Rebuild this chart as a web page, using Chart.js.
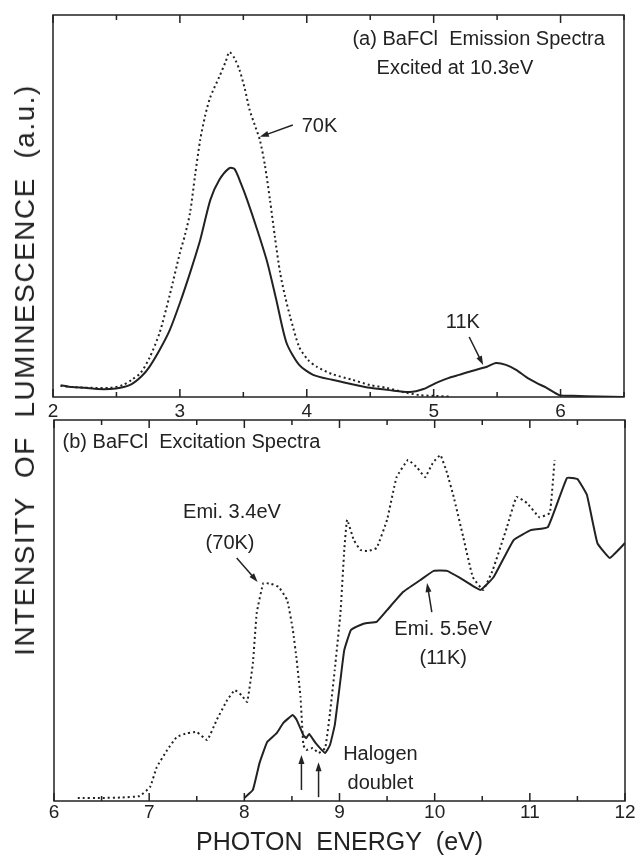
<!DOCTYPE html>
<html lang="en">
<head>
<meta charset="UTF-8">
<title>BaFCl Emission and Excitation Spectra</title>
<script src="https://cdn.jsdelivr.net/npm/chart.js"></script>
<style>
  body { margin: 0; background: #fff; font-family: "Liberation Sans", Arial, sans-serif; }
  #wrap { position: relative; width: 640px; height: 856px; overflow: hidden; }
  canvas { position: absolute; left: 0; }
  #top { top: 0; }
  #bottom { top: 400px; }
  #ytitle {
    position: absolute; left: 25px; top: 370px;
    transform: translate(-50%, -50%) rotate(-90deg);
    white-space: pre; font-size: 28px; color: #222; letter-spacing: 1.5px;
  }
</style>
</head>
<body>
<div id="wrap">
  <canvas id="top" width="640" height="430"></canvas>
  <canvas id="bottom" width="640" height="456"></canvas>
  <div id="ytitle">INTENSITY  OF  LUMINESCENCE  (a.u.)</div>
</div>
<script>
// (a) emission spectra, excited at 10.3 eV
const emiEnergy11K = [2.06, 2.15, 2.25, 2.35, 2.45, 2.53, 2.62, 2.70, 2.76, 2.84, 2.92, 3.00, 3.08, 3.16, 3.24,
  3.31, 3.39, 3.43, 3.48, 3.53, 3.61, 3.69, 3.76, 3.84, 3.94, 4.05, 4.20, 4.35, 4.50, 4.65, 4.81, 4.92,
  5.02, 5.12, 5.20, 5.30, 5.42, 5.49, 5.57, 5.65, 5.73, 5.81, 5.89, 5.99, 6.10, 6.30, 6.50];
const emi11K = [3.1, 2.6, 2.4, 2.1, 2.1, 2.4, 3.4, 5.5, 7.9, 12.3, 17.5, 24.6, 32.5, 41.1, 51.6,
  56.8, 59.9, 59.7, 56.0, 51.6, 43.7, 35.1, 25.4, 14.2, 8.4, 5.8, 4.5, 3.4, 2.4, 1.8, 1.3, 2.1,
  3.7, 5.0, 5.8, 6.8, 7.9, 8.9, 8.4, 7.1, 5.2, 3.7, 2.4, 0.5, 0.3, 0.1, 0];

const emiEnergy70K = [2.06, 2.15, 2.30, 2.45, 2.55, 2.62, 2.69, 2.76, 2.84, 2.92, 3.00, 3.04, 3.08, 3.12, 3.16,
  3.20, 3.24, 3.31, 3.36, 3.39, 3.43, 3.47, 3.51, 3.55, 3.59, 3.63, 3.67, 3.71, 3.75, 3.79, 3.83, 3.87,
  3.94, 4.01, 4.08, 4.20, 4.36, 4.50, 4.63, 4.76, 4.89, 5.00, 5.13];
const emi70K = [2.9, 2.6, 2.4, 2.4, 3.1, 4.5, 6.3, 10.2, 16.8, 26.7, 37.7, 42.4, 48.2, 58.1, 67.3,
  73.8, 78.5, 83.8, 87.7, 90.3, 88.7, 85.6, 80.9, 75.1, 71.2, 67.3, 60.7, 51.6, 41.6, 32.5, 26.2, 20.9,
  13.1, 9.7, 7.9, 6.0, 4.5, 3.1, 2.4, 1.3, 0.5, 0.3, 0.1];

// (b) excitation spectra, monitored at 3.4 eV (70K) and 5.5 eV (11K)
const excEnergy70K = [6.25, 6.50, 6.70, 6.90, 7.01, 7.08, 7.19, 7.29, 7.40, 7.50, 7.61, 7.71, 7.82, 7.90, 7.97,
  8.03, 8.09, 8.13, 8.20, 8.28, 8.36, 8.45, 8.51, 8.55, 8.59, 8.62, 8.65, 8.72, 8.78, 8.85, 8.90, 8.95,
  9.01, 9.05, 9.08, 9.15, 9.22, 9.30, 9.39, 9.50, 9.60, 9.72, 9.82, 9.90, 9.98, 10.06, 10.13, 10.20,
  10.30, 10.40, 10.51, 10.61, 10.76, 10.86, 10.97, 11.10, 11.21, 11.26];
const exc70K = [0.8, 0.8, 0.9, 1.3, 3.7, 8.9, 13.4, 16.8, 17.8, 18.1, 16.0, 21.3, 26.5, 29.1, 27.8,
  26.0, 36.2, 49.3, 57.2, 57.0, 56.2, 52.8, 44.9, 37.0, 27.3, 14.7, 13.4, 13.9, 12.6, 13.9, 23.1, 34.4,
  49.3, 65.9, 73.8, 68.5, 65.9, 65.6, 66.4, 73.8, 85.0, 89.5, 87.4, 85.0, 88.7, 90.8, 86.1, 79.8,
  69.3, 58.8, 55.4, 60.6, 71.9, 79.8, 78.2, 74.5, 75.6, 89.5];

const excEnergy11K = [8.00, 8.09, 8.16, 8.24, 8.34, 8.41, 8.51, 8.55, 8.62, 8.65, 8.68, 8.75, 8.85, 8.90, 8.95,
  9.01, 9.05, 9.12, 9.22, 9.29, 9.39, 9.50, 9.67, 9.85, 9.99, 10.13, 10.27, 10.48, 10.62, 10.83, 11.01,
  11.19, 11.39, 11.50, 11.60, 11.71, 11.84, 12.00];
const exc11K = [0.8, 2.9, 10.0, 15.5, 17.8, 20.5, 22.6, 21.3, 17.3, 16.5, 17.6, 15.2, 12.6, 14.7, 19.9,
  31.8, 39.6, 44.9, 46.2, 46.7, 47.0, 50.1, 54.9, 58.0, 60.4, 60.4, 58.5, 55.4, 58.8, 68.5, 71.1,
  71.9, 84.8, 84.5, 80.3, 67.7, 63.8, 67.7];

const topTicks = [2, 3, 4, 5, 6];
const bottomTicks = [6, 7, 8, 9, 10, 11, 12];

const INK = '#222';
const FONT = '"Liberation Sans", Arial, sans-serif';

function points(xs, ys) {
  return xs.map((x, i) => ({ x: x, y: ys[i] }));
}

function solid(xs, ys, tension) {
  return { data: points(xs, ys), borderColor: INK, borderWidth: 2, pointRadius: 0, tension: tension };
}

function dotted(xs, ys, tension) {
  return { data: points(xs, ys), borderColor: INK, borderWidth: 2, borderDash: [2, 3], pointRadius: 0, tension: tension };
}

// frame with inward ticks every 0.5 eV (longer at whole eV), then text labels and arrows
function spectraPlugin(notes, arrows) {
  return {
    id: 'spectra',
    afterDraw(chart) {
      const { ctx, chartArea: a, scales: { x, y } } = chart;
      ctx.save();
      ctx.strokeStyle = INK;
      ctx.lineWidth = 1.5;
      ctx.strokeRect(a.left, a.top, a.right - a.left, a.bottom - a.top);
      ctx.beginPath();
      for (let v = x.min; v <= x.max + 1e-9; v += 0.5) {
        const px = x.getPixelForValue(v);
        const len = Math.abs(v - Math.round(v)) < 1e-6 ? 8 : 5;
        ctx.moveTo(px, a.top);
        ctx.lineTo(px, a.top + len);
        ctx.moveTo(px, a.bottom);
        ctx.lineTo(px, a.bottom - len);
      }
      ctx.stroke();

      ctx.fillStyle = INK;
      ctx.font = '20px ' + FONT;
      ctx.textBaseline = 'middle';
      notes.forEach(n => {
        ctx.textAlign = n.align || 'center';
        ctx.fillText(n.text, x.getPixelForValue(n.x), y.getPixelForValue(n.y));
      });

      ctx.lineWidth = 1.5;
      arrows.forEach(ar => {
        const x0 = x.getPixelForValue(ar.from[0]), y0 = y.getPixelForValue(ar.from[1]);
        const x1 = x.getPixelForValue(ar.to[0]), y1 = y.getPixelForValue(ar.to[1]);
        const ang = Math.atan2(y1 - y0, x1 - x0);
        ctx.beginPath();
        ctx.moveTo(x0, y0);
        ctx.lineTo(x1 - 6 * Math.cos(ang), y1 - 6 * Math.sin(ang));
        ctx.stroke();
        ctx.beginPath();
        ctx.moveTo(x1, y1);
        ctx.lineTo(x1 - 9 * Math.cos(ang) + 3 * Math.sin(ang), y1 - 9 * Math.sin(ang) - 3 * Math.cos(ang));
        ctx.lineTo(x1 - 9 * Math.cos(ang) - 3 * Math.sin(ang), y1 - 9 * Math.sin(ang) + 3 * Math.cos(ang));
        ctx.closePath();
        ctx.fill();
      });
      ctx.restore();
    }
  };
}

function xAxis(min, max, ticks, pad, height, title) {
  return {
    type: 'linear', min: min, max: max,
    afterBuildTicks: axis => { axis.ticks = ticks.map(v => ({ value: v })); },
    afterFit: axis => { axis.height = height; },
    grid: { display: false, drawTicks: false },
    border: { display: false },
    ticks: { color: INK, padding: pad, font: { family: FONT, size: 19, lineHeight: 1 } },
    title: title
  };
}

const baseOptions = {
  responsive: false,
  animation: false,
  plugins: { legend: { display: false }, tooltip: { enabled: false } }
};

new Chart(document.getElementById('top'), {
  type: 'line',
  data: { datasets: [dotted(emiEnergy70K, emi70K, 0.25), solid(emiEnergy11K, emi11K, 0.25)] },
  options: Object.assign({}, baseOptions, {
    layout: { padding: { left: 53, right: 16, top: 15, bottom: 0 } },
    scales: {
      x: xAxis(2, 6.5, topTicks, 5.5, 33, { display: false }),
      y: { display: false, min: 0, max: 100 }
    }
  }),
  plugins: [spectraPlugin(
    [
      { text: '(a) BaFCl  Emission Spectra', x: 4.36, y: 93.7, align: 'left' },
      { text: 'Excited at 10.3eV', x: 4.55, y: 86.1, align: 'left' },
      { text: '70K', x: 3.96, y: 70.7, align: 'left' },
      { text: '11K', x: 5.23, y: 19.6 }
    ],
    [
      { from: [3.89, 71.2], to: [3.63, 68.1] },
      { from: [5.28, 15.7], to: [5.39, 8.4] }
    ]
  )]
});

new Chart(document.getElementById('bottom'), {
  type: 'line',
  data: { datasets: [dotted(excEnergy70K, exc70K, 0.1), solid(excEnergy11K, exc11K, 0.1)] },
  options: Object.assign({}, baseOptions, {
    layout: { padding: { left: 54, right: 15, top: 20, bottom: 0 } },
    scales: {
      x: xAxis(6, 12, bottomTicks, 2.5, 55, {
        display: true, text: 'PHOTON  ENERGY  (eV)', color: INK,
        font: { family: FONT, size: 25, lineHeight: 1 }, padding: 0
      }),
      y: { display: false, min: 0, max: 100 }
    }
  }),
  plugins: [spectraPlugin(
    [
      { text: '(b) BaFCl  Excitation Spectra', x: 6.09, y: 94.0, align: 'left' },
      { text: 'Emi. 3.4eV', x: 7.87, y: 75.6 },
      { text: '(70K)', x: 7.85, y: 67.7 },
      { text: 'Emi. 5.5eV', x: 10.09, y: 44.9 },
      { text: '(11K)', x: 10.09, y: 37.5 },
      { text: 'Halogen', x: 9.43, y: 12.1 },
      { text: 'doublet', x: 9.43, y: 4.7 }
    ],
    [
      { from: [7.92, 63.8], to: [8.14, 57.5] },
      { from: [9.97, 49.6], to: [9.92, 57.2] },
      { from: [8.60, 2.9], to: [8.60, 12.1] },
      { from: [8.78, 1.0], to: [8.78, 10.2] }
    ]
  )]
});
</script>
</body>
</html>
